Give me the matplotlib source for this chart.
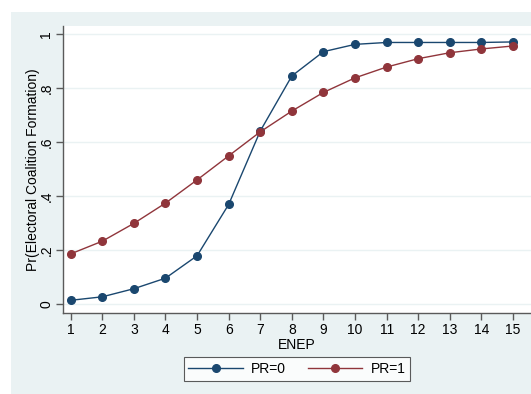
import matplotlib
matplotlib.use("Agg")
import matplotlib.pyplot as plt
from matplotlib.patches import Rectangle

enep = list(range(1, 16))
pr0 = [0.015, 0.028, 0.058, 0.097, 0.180, 0.370, 0.642, 0.846, 0.936, 0.963,
       0.970, 0.970, 0.970, 0.970, 0.972]
pr1 = [0.187, 0.234, 0.300, 0.375, 0.461, 0.550, 0.639, 0.716, 0.785, 0.839,
       0.879, 0.910, 0.932, 0.946, 0.957]
yticks = [0, 0.2, 0.4, 0.6, 0.8, 1.0]
ytick_labels = ["0", ".2", ".4", ".6", ".8", "1"]

plt.rcParams['font.family'] = ['Liberation Sans', 'DejaVu Sans']

W, H = 531, 394
fig = plt.figure(figsize=(W / 100, H / 100), dpi=100)
fig.patch.set_facecolor('white')
bg = Rectangle((11 / W, 0), 1 - 11 / W, 1 - 12 / H, transform=fig.transFigure,
               facecolor='#eaf2f3', edgecolor='none', zorder=-5)
fig.patches.append(bg)

ax = fig.add_axes([63 / W, (H - 313) / H, 1 - 63 / W, (313 - 26) / H])
ax.set_zorder(1)
ax.set_facecolor('white')
blue = '#1a476f'
red = '#90353b'
l0, = ax.plot(enep, pr0, color=blue, marker='o', markersize=5.5, linewidth=1.0,
              label='PR=0', zorder=3)
l1, = ax.plot(enep, pr1, color=red, marker='o', markersize=5.5, linewidth=1.0,
              label='PR=1', zorder=3)

ax.set_xlim(0.756, 15.57)
ax.set_ylim(-0.032, 1.031)
ax.set_xticks(enep)
ax.set_yticks(yticks)
ax.set_yticklabels(ytick_labels, rotation=90, va='center')
for y in yticks:
    ax.axhline(y, color='#eaf2f3', linewidth=1.0, zorder=1)

for s in ['top', 'right']:
    ax.spines[s].set_visible(False)
for s in ['left', 'bottom']:
    ax.spines[s].set_color('#5a5a5a')
    ax.spines[s].set_linewidth(1.0)
ax.tick_params(axis='both', direction='out', length=5, width=1.0,
               color='#5a5a5a', labelsize=10, labelcolor='black', pad=2)

ax.set_xlabel('ENEP', fontsize=10, labelpad=1)
ax.set_ylabel('Pr(Electoral Coalition Formation)', fontsize=10)
ax.yaxis.set_label_coords((40 - 63) / (W - 63), 0.5)

leg = fig.legend(handles=[l0, l1], loc='center', ncol=2,
                 bbox_to_anchor=(297 / W, 1 - 369 / H), fontsize=10,
                 frameon=True, fancybox=False, edgecolor='#333333',
                 handlelength=3.9, columnspacing=1.6, borderpad=0.35,
                 handletextpad=0.6)
leg.get_frame().set_linewidth(0.8)
leg.get_frame().set_facecolor('white')

fig.savefig('out.png', dpi=100, facecolor=fig.get_facecolor())
